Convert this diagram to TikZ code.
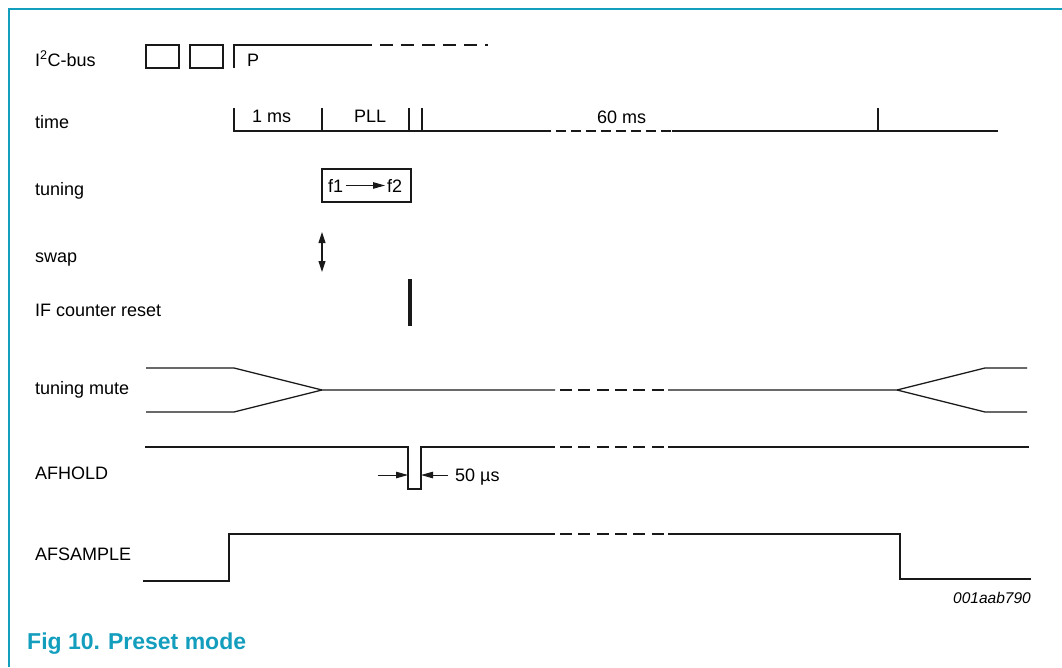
\documentclass[tikz,border=0pt]{standalone}
\usepackage{fontspec}
\setmainfont{Liberation Sans}
\usetikzlibrary{arrows.meta}
\definecolor{nxpteal}{RGB}{20,158,190}
\definecolor{sigcol}{RGB}{25,25,25}
\begin{document}
\begin{tikzpicture}[x=1pt,y=-1pt,
  sig/.style={draw=sigcol, line width=1.3pt, line join=miter},
  dsh/.style={sig, dash pattern=on 12pt off 6.3pt},
  tdsh/.style={sig, dash pattern=on 10pt off 5pt},
  lbl/.style={anchor=base west, inner sep=0pt, font=\fontsize{18}{21}\selectfont},
  txt/.style={anchor=base west, inner sep=0pt, font=\fontsize{18}{21}\selectfont},
  tip/.style={-{Triangle[length=12pt,width=6.5pt]}}]
\useasboundingbox (0,0) rectangle (1062,667);
% frame
\draw[nxpteal, line width=2pt] (9.3,667) -- (9.3,9.3) -- (1062,9.3);
% labels
\node[lbl] (lI2C) at (35,66) {I\textsuperscript{2}C-bus};
\node[lbl] (ltime) at (35,128) {time};
\node[lbl] (ltun) at (35,195) {tuning};
\node[lbl] (lswap) at (35,262) {swap};
\node[lbl] (lif) at (35,316) {IF counter reset};
\node[lbl] (lmute) at (35,394) {tuning mute};
\node[lbl] (lhold) at (35,479) {AFHOLD};
\node[lbl] (lsamp) at (35,560) {AFSAMPLE};
% I2C-bus
\draw[sig] (146,45) rectangle (179,68);
\draw[sig] (190,45) rectangle (223,68);
\draw[sig] (234,68) -- (234,45) -- (372,45);
\draw[sig, dash pattern=on 13pt off 8pt] (380,45) -- (488,45);
\node[txt] (P) at (247,66) {P};
% time
\draw[sig] (234,108) -- (234,131) -- (551,131);
\draw[tdsh] (556,131) -- (672,131);
\draw[sig] (672,131) -- (998,131);
\foreach \x in {322,409,422,878} \draw[sig] (\x,108) -- (\x,131);
\node[txt] (t1) at (252,122) {1 ms};
\node[txt] (tpll) at (354,122) {PLL};
\node[txt] (t60) at (597,123) {60 ms};
% tuning
\draw[sig] (322,169) rectangle (411,202);
\node[txt] (f1) at (328,192) {f1};
\node[txt] (f2) at (387,192) {f2};
\draw[sig, line width=1pt, tip, shorten <=3pt, shorten >=2pt] (f1.east) -- (f2.west);
% swap
\coordinate (swt) at (322,232);
\coordinate (swb) at (322,272);
\draw[sig, line width=1.1pt, {Triangle[length=11pt,width=7pt]}-{Triangle[length=11pt,width=7pt]}] (swt) -- (swb);
% IF counter reset
\draw[draw=sigcol, line width=3.2pt] (410,279) -- (410,326);
% tuning mute
\draw[sig] (146,368) -- (234,368) -- (322,390) -- (555,390);
\draw[sig] (146,412) -- (234,412) -- (322,390);
\draw[dsh] (560,390) -- (664,390);
\draw[sig] (668,390) -- (897,390) -- (985,368) -- (1027,368);
\draw[sig] (897,390) -- (985,412) -- (1027,412);
% AFHOLD
\draw[sig] (145,447) -- (408,447) -- (408,489) -- (421,489) -- (421,447) -- (555,447);
\draw[dsh] (560,447) -- (664,447);
\draw[sig] (668,447) -- (1029,447);
\coordinate (ha) at (378,475);
\coordinate (hb) at (408,475);
\coordinate (hc) at (421,475);
\node[txt] (h50) at (455,481) {50 µs};
\draw[sig, line width=1pt, tip] (ha) -- (hb);
\draw[sig, line width=1pt, tip, shorten <=7pt] (h50.west |- hc) -- (hc);
% AFSAMPLE
\draw[sig] (143,581) -- (229,581) -- (229,534) -- (555,534);
\draw[dsh] (560,534) -- (664,534);
\draw[sig] (668,534) -- (900,534) -- (900,579) -- (1031,579);
\node[anchor=base east, inner sep=0pt, font=\fontsize{15.5}{18}\selectfont\itshape] (code) at (1031,603) {001aab790};
% caption
\node[anchor=base west, inner sep=0pt, text=nxpteal, font=\fontsize{23}{26}\selectfont\bfseries] (cap) at (27,649) {Fig 10.\hspace{8pt}Preset mode};
\end{tikzpicture}
\end{document}
